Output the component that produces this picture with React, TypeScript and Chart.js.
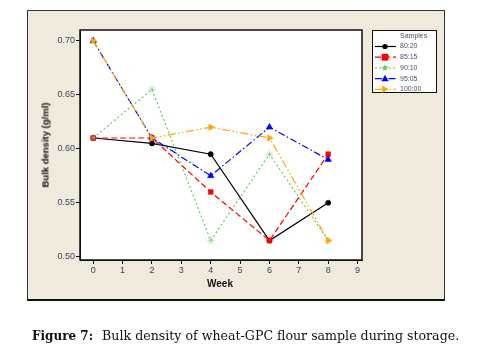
import React, { useEffect, useRef } from "react";
import { Chart, registerables } from "chart.js";

Chart.register(...registerables);

const weeks = [0, 2, 4, 6, 8];
const s8020 = [0.61, 0.605, 0.595, 0.515, 0.55];
const s8515 = [0.61, 0.61, 0.56, 0.515, 0.595];
const s9010 = [0.61, 0.655, 0.515, 0.595, 0.515];
const s9505 = [0.7, 0.61, 0.575, 0.62, 0.59];
const s10000 = [0.7, 0.61, 0.62, 0.61, 0.515];
const seriesLabels = ["80:20", "85:15", "90:10", "95:05", "100:00"];
const xTicks = [0, 1, 2, 3, 4, 5, 6, 7, 8, 9];
const yTicks = [0.5, 0.55, 0.6, 0.65, 0.7];

const styles = [
  { color: "#000000", dash: [], point: "circle", radius: 2.6, rot: 0 },
  { color: "#ff0000", dash: [6, 3], point: "rect", radius: 3.4, rot: 0 },
  { color: "#66cc66", dash: [2, 2.5], point: "star", radius: 3.6, rot: 0 },
  { color: "#0000ff", dash: [7, 2.5, 1.5, 2.5], point: "triangle", radius: 3.8, rot: 0 },
  { color: "#ffa500", dash: [8, 2.5, 1.5, 2.5, 1.5, 2.5], point: "triangle", radius: 3.8, rot: 90 },
];

const allSeries = [s8020, s8515, s9010, s9505, s10000];

function drawMarker(ctx: any, style: string, r: number, rot: number, x: number, y: number) {
  ctx.save();
  ctx.translate(x, y);
  ctx.rotate((rot * Math.PI) / 180);
  ctx.beginPath();
  if (style === "circle") {
    ctx.arc(0, 0, r, 0, Math.PI * 2);
  } else if (style === "rect") {
    ctx.rect(-r, -r, 2 * r, 2 * r);
  } else if (style === "triangle") {
    ctx.moveTo(0, -r);
    ctx.lineTo(r * 0.95, r * 0.7);
    ctx.lineTo(-r * 0.95, r * 0.7);
    ctx.closePath();
  } else if (style === "star") {
    for (let k = 0; k < 10; k++) {
      const ang = (k * Math.PI) / 5 - Math.PI / 2;
      const rr = k % 2 === 0 ? r : r * 0.5;
      const px = Math.cos(ang) * rr, py = Math.sin(ang) * rr;
      if (k === 0) ctx.moveTo(px, py);
      else ctx.lineTo(px, py);
    }
    ctx.closePath();
  }
  ctx.fill();
  ctx.restore();
}

const plotBg = {
  id: "plotBg",
  beforeDraw(chart: any) {
    const { ctx, chartArea: a } = chart;
    ctx.save();
    ctx.fillStyle = "#ffffff";
    ctx.fillRect(a.left, a.top, a.right - a.left, a.bottom - a.top);
    ctx.restore();
  },
  afterDraw(chart: any) {
    const { ctx, chartArea: a } = chart;
    ctx.save();
    ctx.strokeStyle = "#111";
    ctx.lineWidth = 1.5;
    ctx.strokeRect(a.left, a.top, a.right - a.left, a.bottom - a.top);
    const lx = 372, ly = 30, lw = 64, lh = 62;
    ctx.fillStyle = "#ffffff";
    ctx.fillRect(lx, ly, lw, lh);
    ctx.strokeStyle = "#111";
    ctx.lineWidth = 1;
    ctx.strokeRect(lx + 0.5, ly + 0.5, lw, lh);
    ctx.fillStyle = "#4a5068";
    ctx.font = "7px 'Liberation Sans', Arial, sans-serif";
    ctx.textBaseline = "middle";
    ctx.textAlign = "left";
    ctx.fillText("Samples", 400, 36);
    chart.data.datasets.forEach((ds: any, i: number) => {
      const y = 46.5 + i * 10.7;
      ctx.save();
      ctx.strokeStyle = ds.borderColor;
      ctx.lineWidth = 1.2;
      ctx.setLineDash(ds.borderDash || []);
      ctx.beginPath();
      ctx.moveTo(375, y);
      ctx.lineTo(396, y);
      ctx.stroke();
      ctx.setLineDash([]);
      ctx.fillStyle = ds.pointBackgroundColor;
      drawMarker(ctx, ds.pointStyle, ds.pointRadius, ds.pointRotation, 385, y);
      ctx.restore();
      ctx.fillStyle = "#4a5068";
      ctx.fillText(ds.label, 400, y);
    });
    ctx.restore();
  },
};

export default function App() {
  const ref = useRef<HTMLCanvasElement>(null);
  useEffect(() => {
    document.body.style.margin = "0";
    const datasets = allSeries.map((vals, i) => {
      const s = styles[i];
      return {
        label: seriesLabels[i],
        data: weeks.map((w, j) => ({ x: w, y: vals[j] })),
        borderColor: s.color,
        backgroundColor: s.color,
        pointBackgroundColor: s.color,
        pointBorderColor: s.color,
        borderWidth: 1.2,
        borderDash: s.dash,
        pointStyle: s.point,
        pointRadius: s.radius,
        pointRotation: s.rot,
        pointBorderWidth: 0.5,
        tension: 0,
        fill: false,
        order: 5 - i,
      };
    });
    const chart = new Chart(ref.current as HTMLCanvasElement, {
      type: "line",
      data: { datasets } as any,
      options: {
        animation: false,
        responsive: false,
        devicePixelRatio: 1,
        layout: { padding: { left: 0, top: 30, right: 129, bottom: 61 } },
        plugins: { legend: { display: false }, tooltip: { enabled: false } },
        scales: {
          x: {
            type: "linear",
            min: -0.45,
            max: 9.15,
            afterBuildTicks: (sc: any) => {
              sc.ticks = xTicks.map((v) => ({ value: v }));
            },
            afterFit: (sc: any) => {
              sc.height = 40;
            },
            grid: { drawOnChartArea: false, drawTicks: true, tickLength: 4, color: "#111", tickColor: "#111" },
            border: { display: true, color: "#111" },
            ticks: {
              autoSkip: false,
              maxRotation: 0,
              padding: 1,
              color: "#3a4560",
              font: { family: "'Liberation Sans', Arial, sans-serif", size: 9 },
            },
          },
          y: {
            type: "linear",
            min: 0.497,
            max: 0.71,
            afterBuildTicks: (sc: any) => {
              sc.ticks = yTicks.map((v) => ({ value: v }));
            },
            afterFit: (sc: any) => {
              sc.width = 80;
            },
            grid: { drawOnChartArea: false, drawTicks: true, tickLength: 4, color: "#111", tickColor: "#111" },
            border: { display: true, color: "#111" },
            ticks: {
              padding: 1,
              color: "#3a4560",
              callback: (v: any) => Number(v).toFixed(2),
              font: { family: "'Liberation Sans', Arial, sans-serif", size: 9 },
            },
          },
        },
      },
      plugins: [plotBg],
    } as any);
    return () => chart.destroy();
  }, []);

  return (
    <div style={{ position: "fixed", left: 0, top: 0, width: 491, height: 361, background: "#ffffff" }}>
      <div
        style={{
          position: "absolute",
          left: 27,
          top: 10,
          width: 416,
          height: 288,
          background: "#f0eadd",
          border: "1px solid #333",
          borderBottom: "2px solid #111",
        }}
      />
      <canvas ref={ref} width={491} height={361} style={{ position: "absolute", left: 0, top: 0, width: 491, height: 361 }} />
      <div
        style={{
          position: "absolute",
          left: 45,
          top: 145,
          transform: "translate(-50%, -50%) rotate(-90deg)",
          whiteSpace: "nowrap",
          font: "bold 9.5px 'Liberation Sans', Arial, sans-serif",
          color: "#111",
        }}
      >
        Bulk density (g/ml)
      </div>
      <div
        style={{
          position: "absolute",
          left: 220,
          top: 283,
          transform: "translate(-50%, -50%)",
          whiteSpace: "nowrap",
          font: "bold 10px 'Liberation Sans', Arial, sans-serif",
          color: "#111",
        }}
      >
        Week
      </div>
      <div
        style={{
          position: "absolute",
          left: 32,
          top: 326,
          whiteSpace: "nowrap",
          fontFamily: "'DejaVu Serif', serif",
          color: "#111",
          lineHeight: "17px",
        }}
      >
        <span style={{ fontWeight: "bold", fontSize: 12 }}>Figure 7:</span>
        <span style={{ display: "inline-block", width: 9 }} />
        <span style={{ fontSize: 12.6 }}>Bulk density of wheat-GPC flour sample during storage.</span>
      </div>
    </div>
  );
}
